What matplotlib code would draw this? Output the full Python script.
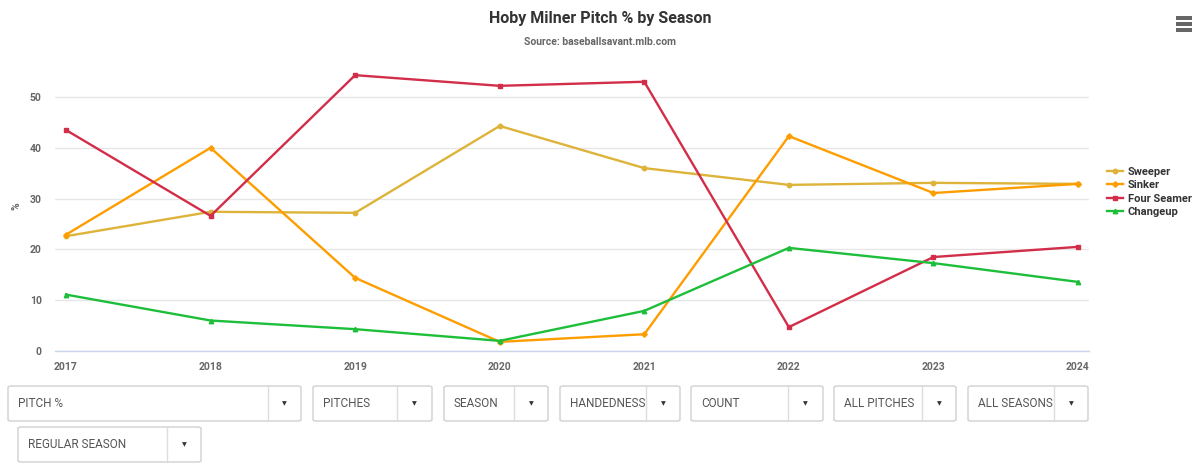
import matplotlib
matplotlib.use("Agg")
import matplotlib.pyplot as plt
from matplotlib.patches import Rectangle, FancyBboxPatch
from matplotlib.lines import Line2D

plt.rcParams['font.family'] = ['Roboto', 'DejaVu Sans']

# ---------------- data ----------------
seasons = [2017, 2018, 2019, 2020, 2021, 2022, 2023, 2024]
season_labels = [str(s) for s in seasons]
sweeper = [22.6, 27.4, 27.2, 44.3, 36.0, 32.7, 33.1, 32.9]
sinker = [22.9, 40.0, 14.4, 1.8, 3.3, 42.3, 31.1, 32.9]
four_seamer = [43.5, 26.6, 54.3, 52.2, 53.0, 4.7, 18.5, 20.5]
changeup = [11.1, 6.0, 4.3, 2.0, 7.9, 20.3, 17.3, 13.6]
series_names = ["Sweeper", "Sinker", "Four Seamer", "Changeup"]
series_colors = ["#DDB33A", "#FE9D00", "#D22D49", "#1DBE3A"]
series_markers = ["o", "D", "s", "^"]
y_ticks = [0, 10, 20, 30, 40, 50]
dropdown_labels_row1 = ["PITCH %", "PITCHES", "SEASON", "HANDEDNESS", "COUNT",
                        "ALL PITCHES", "ALL SEASONS"]
dropdown_labels_row2 = ["REGULAR SEASON"]

# ---------------- figure ----------------
W, H = 1200, 466
fig = plt.figure(figsize=(W / 100, H / 100), dpi=100)
fig.patch.set_facecolor("white")


def fx(px):
    return px / W


def fy(py):
    return 1 - py / H


ax_left, ax_right, ax_top, ax_bottom = 55, 1089, 70, 351
ax_w = ax_right - ax_left
ax = fig.add_axes([fx(ax_left), fy(ax_bottom), ax_w / W,
                   (ax_bottom - ax_top) / H])
px_per_year = (1078 - 66) / 7.0
pad = (66 - ax_left) / px_per_year
ax.set_xlim(seasons[0] - pad, seasons[-1] + pad)
ax.set_ylim(0, (ax_bottom - ax_top) / ((351 - 97) / 50.0))

all_series = [sweeper, sinker, four_seamer, changeup]
for name, vals, col, mk in zip(series_names, all_series, series_colors, series_markers):
    ax.plot(seasons, vals, color=col, lw=1.7, marker=mk,
            ms=3.2 if mk != "D" else 2.8, label=name, zorder=3)

ax.set_yticks(y_ticks)
ax.set_yticklabels([str(t) for t in y_ticks])
ax.set_xticks(seasons)
ax.set_xticklabels(season_labels)
ax.yaxis.grid(True, color="#e6e6e6", lw=1)
ax.set_axisbelow(True)
for s in ["top", "right", "left"]:
    ax.spines[s].set_visible(False)
ax.spines["bottom"].set_color("#ccd6eb")
ax.spines["bottom"].set_linewidth(1)
ax.tick_params(axis="both", length=0, colors="#666666", labelsize=7.5)
ax.tick_params(axis="x", pad=8)
ax.tick_params(axis="y", pad=9.5)
for lab in ax.get_xticklabels() + ax.get_yticklabels():
    lab.set_fontweight("bold")
ax.set_ylabel("%", color="#666666", fontsize=7.5, fontweight="bold")
ax.yaxis.label.set_va("center")
ax.yaxis.set_label_coords((17 - ax_left) / ax_w, (351 - 206) / (351 - 70))

# title & subtitle
fig.text(0.5, fy(19), "Hoby Milner Pitch % by Season", ha="center", va="center",
         fontsize=11.5, fontweight="bold", color="#333333")
fig.text(0.5, fy(42), "Source: baseballsavant.mlb.com", ha="center", va="center",
         fontsize=7.5, fontweight="bold", color="#666666")

# legend
handles, labels = ax.get_legend_handles_labels()
leg = fig.legend(handles, labels, loc="center left",
                 bbox_to_anchor=(fx(1107), fy(192)), frameon=False,
                 fontsize=8, handlelength=1.4, handletextpad=0.45,
                 labelspacing=0.32, borderpad=0, borderaxespad=0)
for t in leg.get_texts():
    t.set_fontweight("bold")
    t.set_color("#333333")

# hamburger menu icon
for yy in (18, 24, 30):
    fig.add_artist(Rectangle((fx(1176), fy(yy + 1.5)), 16 / W, 3 / H,
                             transform=fig.transFigure, color="#666666", lw=0))

# dropdown controls
boxes_row1 = [(8, 301, 268), (313, 432, 397), (444, 548, 514), (560, 680, 646),
              (691, 823, 788), (834, 956, 922), (968, 1088, 1054)]
boxes_row2 = [(18, 201, 167)]


def draw_box(x0, x1, xd, y0, y1, label):
    fig.add_artist(FancyBboxPatch((fx(x0), fy(y1)), (x1 - x0) / W, (y1 - y0) / H,
                                  boxstyle="round,pad=0,rounding_size=0.003",
                                  transform=fig.transFigure, facecolor="white",
                                  edgecolor="#d0d0d0", lw=1))
    fig.add_artist(Line2D([fx(xd), fx(xd)], [fy(y0), fy(y1)],
                          transform=fig.transFigure, color="#dddddd", lw=1))
    fig.text(fx(x0 + 10), fy((y0 + y1) / 2), label, ha="left", va="center",
             fontsize=8.5, color="#555555")
    fig.text(fx((xd + x1) / 2), fy((y0 + y1) / 2), "\u25BC", ha="center",
             va="center", fontsize=4.5, color="#333333",
             family=["DejaVu Sans"])


for (x0, x1, xd), lab in zip(boxes_row1, dropdown_labels_row1):
    draw_box(x0, x1, xd, 386, 421, lab)
for (x0, x1, xd), lab in zip(boxes_row2, dropdown_labels_row2):
    draw_box(x0, x1, xd, 427, 462, lab)

fig.savefig("out.png", dpi=100, facecolor="white")
